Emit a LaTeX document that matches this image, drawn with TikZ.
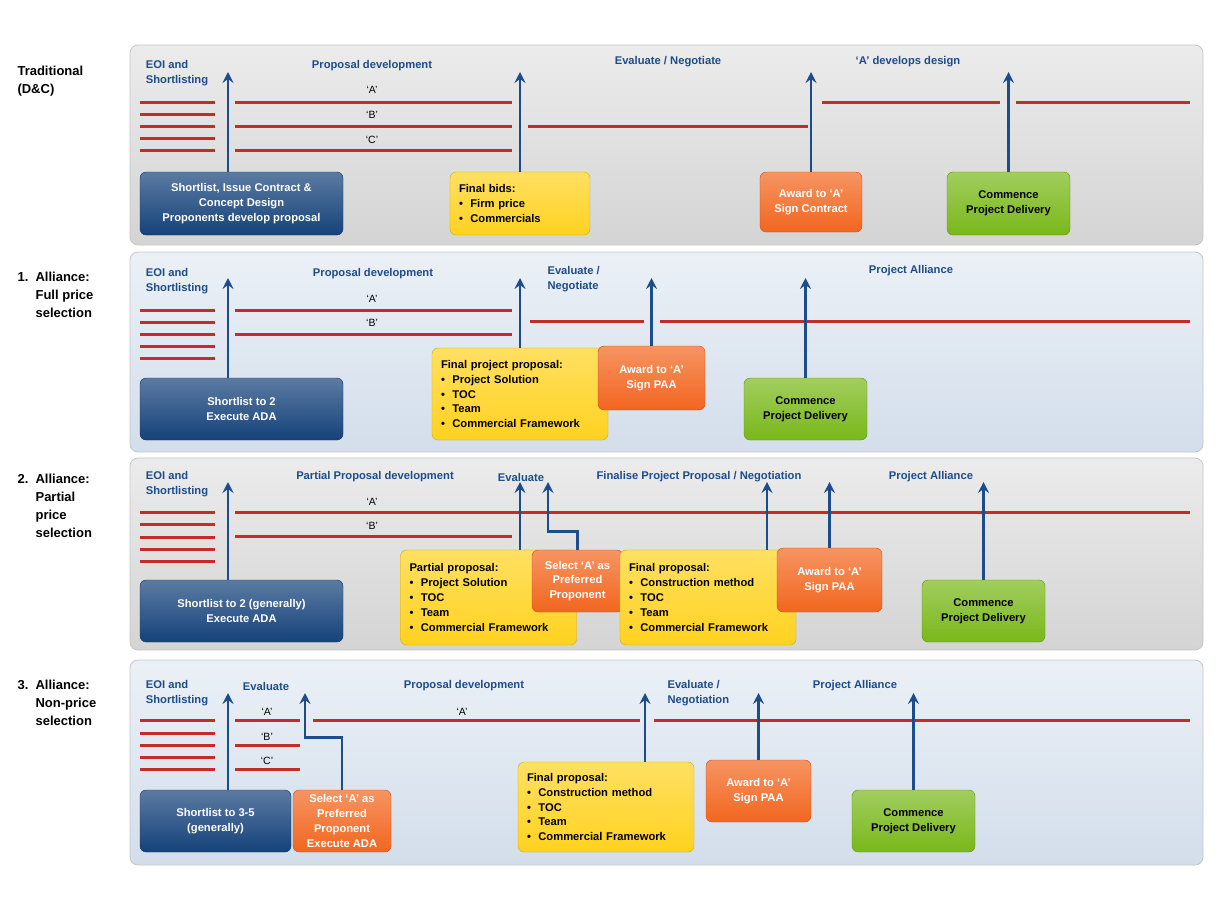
\documentclass[tikz,border=0pt]{standalone}
\usepackage{fontspec}
\setmainfont{Liberation Sans}
\usetikzlibrary{arrows.meta}
\definecolor{navy}{HTML}{1D4C8A}
\definecolor{linered}{HTML}{C42B2B}
\definecolor{pgray}{HTML}{D4D4D4}
\definecolor{pblue}{HTML}{D3DEEB}
\definecolor{bxblue}{HTML}{15427A}
\definecolor{bxyellow}{HTML}{FFD21F}
\definecolor{bxorange}{HTML}{F2661F}
\definecolor{bxgreen}{HTML}{79B81A}
\begin{document}
\begin{tikzpicture}[x=1pt,y=-1pt,
  panel/.style={draw=gray!45,rounded corners=8pt,line width=0.8pt,top color=#1!45!white,bottom color=#1},
  box/.style={rounded corners=6pt,draw=#1!80!black,top color=#1!70!white,bottom color=#1,
    inner sep=3pt,font=\bfseries\fontsize{11.2}{14.8}\selectfont},
  bluebox/.style={box=bxblue,text=white,align=center},
  yellowbox/.style={box=bxyellow,text=black,align=left,text width=#1,inner xsep=9pt},
  orangebox/.style={box=bxorange,text=white,align=center},
  greenbox/.style={box=bxgreen,text=black,align=center},
  redline/.style={linered,line width=3pt},
  uparrow/.style={navy,line width=2.8pt,-{Stealth[length=11pt,width=11pt,inset=4pt]}},
  phase/.style={navy,font=\bfseries\fontsize{11.2}{15}\selectfont,align=left},
  bidder/.style={font=\fontsize{10.5}{12}\selectfont},
  rowlabel/.style={anchor=north west,align=left,font=\bfseries\fontsize{13}{18}\selectfont}]
\useasboundingbox (0,0) rectangle (1226,902);

% panels
\foreach \t/\b/\c in {45/245/pgray,252/452/pblue,458/650/pgray,660/865/pblue}
  \draw[panel=\c] (130,\t) rectangle (1203,\b);

% row labels
\node[rowlabel] (r0) at (14,63) {Traditional\\(D\&C)};
\node[rowlabel] (r1) at (14,269) {1.\ \ Alliance:\\\phantom{1.\ \ }Full price\\\phantom{1.\ \ }selection};
\node[rowlabel] (r2) at (14,471) {2.\ \ Alliance:\\\phantom{2.\ \ }Partial\\\phantom{2.\ \ }price\\\phantom{2.\ \ }selection};
\node[rowlabel] (r3) at (14,677) {3.\ \ Alliance:\\\phantom{3.\ \ }Non-price\\\phantom{3.\ \ }selection};

% short lines before shortlisting
\foreach \y in {102,114,126,138,150,310,322,334,346,358,512,524,537,549,561,720,733,745,757,769}
  \draw[redline] (140,\y) -- (215,\y);

% ---- traditional
\node[phase] (p0a) at (177,73) {EOI and\\Shortlisting};
\node[phase] (p0b) at (372,66) {Proposal development};
\node[phase] (p0c) at (668,62) {Evaluate / Negotiate};
\node[phase] (p0d) at (908,62) {`A' develops design};
\draw[redline] (235,102) -- (512,102) (235,126) -- (512,126) (528,126) -- (808,126)
  (235,150) -- (512,150) (822,102) -- (1000,102) (1016,102) -- (1190,102);
\node[bidder] (b0a) at (372,90) {`A'};
\node[bidder] (b0b) at (372,115) {`B'};
\node[bidder] (b0c) at (372,140) {`C'};
\node[bluebox,minimum width=203,minimum height=63] (sl0) at (241.5,203.5)
  {Shortlist, Issue Contract \&\\Concept Design\\Proponents develop proposal};
\node[yellowbox=122,minimum height=63] (fb0) at (520,203.5)
  {Final bids:\\\textbullet\ \ Firm price\\\textbullet\ \ Commercials};
\node[orangebox,minimum width=102,minimum height=60] (aw0) at (811,202) {Award to `A'\\Sign Contract};
\node[greenbox,minimum width=123,minimum height=63] (cp0) at (1008.5,203.5) {Commence\\Project Delivery};
\coordinate (t0a) at (228,72); \coordinate (t0b) at (520,72);
\coordinate (t0c) at (811,72); \coordinate (t0d) at (1008.5,72);
\draw[uparrow] (sl0.north -| t0a) -- (t0a);
\draw[uparrow] (fb0.north) -- (t0b);
\draw[uparrow] (aw0.north) -- (t0c);
\draw[uparrow] (cp0.north) -- (t0d);

% ---- alliance: full price
\node[phase] (p1a) at (177,281) {EOI and\\Shortlisting};
\node[phase] (p1b) at (373,274) {Proposal development};
\node[phase,anchor=north west] (p1c) at (544,263) {Evaluate /\\Negotiate};
\node[phase] (p1d) at (911,271) {Project Alliance};
\draw[redline] (235,310) -- (512,310) (235,334) -- (512,334) (530,321) -- (644,321) (660,321) -- (1190,321);
\node[bidder] (b1a) at (372,299) {`A'};
\node[bidder] (b1b) at (372,323) {`B'};
\node[bluebox,minimum width=203,minimum height=62] (sl1) at (241.5,409) {Shortlist to 2\\Execute ADA};
\node[yellowbox=158,minimum height=92] (fp1) at (520,394)
  {Final project proposal:\\\textbullet\ \ Project Solution\\\textbullet\ \ TOC\\\textbullet\ \ Team\\\textbullet\ \ Commercial Framework};
\node[orangebox,minimum width=107,minimum height=64] (aw1) at (651.5,378) {Award to `A'\\Sign PAA};
\node[greenbox,minimum width=123,minimum height=62] (cp1) at (805.5,409) {Commence\\Project Delivery};
\coordinate (t1a) at (228,278); \coordinate (t1b) at (520,278);
\coordinate (t1c) at (651.5,278); \coordinate (t1d) at (805.5,278);
\draw[uparrow] (sl1.north -| t1a) -- (t1a);
\draw[uparrow] (fp1.north) -- (t1b);
\draw[uparrow] (aw1.north) -- (t1c);
\draw[uparrow] (cp1.north) -- (t1d);

% ---- alliance: partial price
\node[phase] (p2a) at (177,484) {EOI and\\Shortlisting};
\node[phase] (p2b) at (375,477) {Partial Proposal development};
\node[phase] (p2c) at (521,477) {Evaluate};
\node[phase] (p2d) at (699,477) {Finalise Project Proposal / Negotiation};
\node[phase] (p2e) at (931,477) {Project Alliance};
\draw[redline] (235,512) -- (1190,512) (235,536) -- (512,536);
\node[bidder] (b2a) at (372,502) {`A'};
\node[bidder] (b2b) at (372,526) {`B'};
\node[bluebox,minimum width=203,minimum height=62] (sl2) at (241.5,611) {Shortlist to 2 (generally)\\Execute ADA};
\node[yellowbox=158,minimum height=95] (pp2) at (488.5,597.5)
  {Partial proposal:\\\textbullet\ \ Project Solution\\\textbullet\ \ TOC\\\textbullet\ \ Team\\\textbullet\ \ Commercial Framework};
\node[orangebox,minimum width=91,minimum height=62] (sa2) at (577.5,581) {Select `A' as\\Preferred\\Proponent};
\node[yellowbox=158,minimum height=95] (fp2) at (708,597.5)
  {Final proposal:\\\textbullet\ \ Construction method\\\textbullet\ \ TOC\\\textbullet\ \ Team\\\textbullet\ \ Commercial Framework};
\node[orangebox,minimum width=105,minimum height=64] (aw2) at (829.5,580) {Award to `A'\\Sign PAA};
\node[greenbox,minimum width=123,minimum height=62] (cp2) at (983.5,611) {Commence\\Project Delivery};
\coordinate (t2a) at (228,482); \coordinate (t2b) at (520,482); \coordinate (t2c) at (548,482);
\coordinate (t2d) at (767,482); \coordinate (t2e) at (829.5,482); \coordinate (t2f) at (983.5,482);
\draw[uparrow] (sl2.north -| t2a) -- (t2a);
\draw[uparrow] (pp2.north -| t2b) -- (t2b);
\draw[uparrow] (sa2.north) -- ++(0,-18) -| (t2c);
\draw[uparrow] (fp2.north -| t2d) -- (t2d);
\draw[uparrow] (aw2.north) -- (t2e);
\draw[uparrow] (cp2.north) -- (t2f);

% ---- alliance: non-price
\node[phase] (p3a) at (177,693) {EOI and\\Shortlisting};
\node[phase] (p3b) at (266,686) {Evaluate};
\node[phase] (p3c) at (464,686) {Proposal development};
\node[phase,anchor=north west] (p3d) at (664,677) {Evaluate /\\Negotiation};
\node[phase] (p3e) at (855,686) {Project Alliance};
\draw[redline] (235,720) -- (300,720) (235,745) -- (300,745) (235,769) -- (300,769)
  (313,720) -- (640,720) (654,720) -- (1190,720);
\node[bidder] (b3a) at (267,712) {`A'};
\node[bidder] (b3b) at (267,737) {`B'};
\node[bidder] (b3c) at (267,761) {`C'};
\node[bidder] (b3d) at (462,712) {`A'};
\node[bluebox,minimum width=151,minimum height=62] (sl3) at (215.5,821) {Shortlist to 3-5\\(generally)};
\node[orangebox,minimum width=98,minimum height=62] (sa3) at (342,821) {Select `A' as\\Preferred\\Proponent\\Execute ADA};
\node[yellowbox=158,minimum height=90] (fp3) at (606,807)
  {Final proposal:\\\textbullet\ \ Construction method\\\textbullet\ \ TOC\\\textbullet\ \ Team\\\textbullet\ \ Commercial Framework};
\node[orangebox,minimum width=105,minimum height=62] (aw3) at (758.5,791) {Award to `A'\\Sign PAA};
\node[greenbox,minimum width=123,minimum height=62] (cp3) at (913.5,821) {Commence\\Project Delivery};
\coordinate (t3a) at (228,693); \coordinate (t3b) at (305,693); \coordinate (t3c) at (645,693);
\coordinate (t3d) at (758.5,693); \coordinate (t3e) at (913.5,693);
\draw[uparrow] (sl3.north -| t3a) -- (t3a);
\draw[uparrow] (sa3.north) -- ++(0,-52) -| (t3b);
\draw[uparrow] (fp3.north -| t3c) -- (t3c);
\draw[uparrow] (aw3.north) -- (t3d);
\draw[uparrow] (cp3.north) -- (t3e);
\end{tikzpicture}
\end{document}
